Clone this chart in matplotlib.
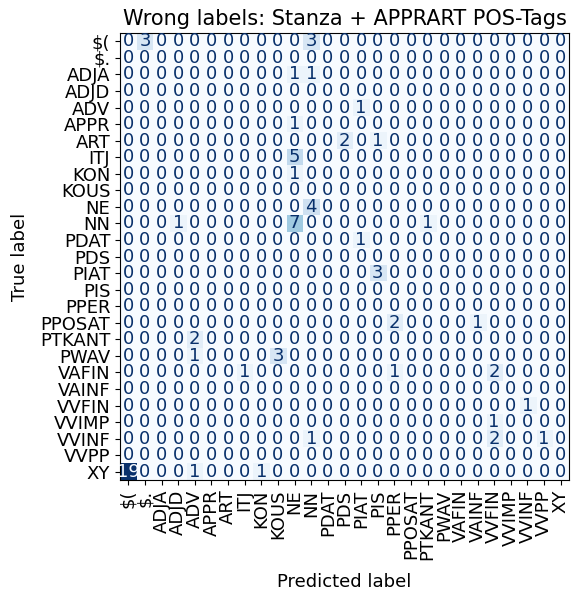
import numpy as np
import matplotlib
matplotlib.use('Agg')
import matplotlib.pyplot as plt

# POS tags (rows = true, cols = predicted)
labels = ['$(', '$.', 'ADJA', 'ADJD', 'ADV', 'APPR', 'ART', 'ITJ', 'KON', 'KOUS',
          'NE', 'NN', 'PDAT', 'PDS', 'PIAT', 'PIS', 'PPER', 'PPOSAT', 'PTKANT',
          'PWAV', 'VAFIN', 'VAINF', 'VVFIN', 'VVIMP', 'VVINF', 'VVPP', 'XY']

# non-zero cells: (true label, predicted label, count)
true_tags = ['$(', '$(', 'ADJA', 'ADJA', 'ADV', 'APPR', 'ART', 'ART', 'ITJ', 'KON',
             'NE', 'NN', 'NN', 'NN', 'PDAT', 'PIAT', 'PPOSAT', 'PPOSAT', 'PTKANT',
             'PWAV', 'PWAV', 'VAFIN', 'VAFIN', 'VAFIN', 'VVFIN', 'VVIMP',
             'VVINF', 'VVINF', 'VVINF', 'XY', 'XY', 'XY']
pred_tags = ['$.', 'NN', 'NE', 'NN', 'PIAT', 'NE', 'PDS', 'PIS', 'NE', 'NE',
             'NN', 'ADJD', 'NE', 'PTKANT', 'PIAT', 'PIS', 'PPER', 'VAINF', 'ADV',
             'ADV', 'KOUS', 'ITJ', 'PPER', 'VVFIN', 'VVINF', 'VVFIN',
             'NN', 'VVFIN', 'VVPP', '$(', 'ADV', 'KON']
counts = [3, 3, 1, 1, 1, 1, 2, 1, 5, 1,
          4, 1, 7, 1, 1, 3, 2, 1, 2,
          1, 3, 1, 1, 2, 1, 1,
          1, 2, 1, 19, 1, 1]

n = len(labels)
cm = np.zeros((n, n), dtype=int)
for t, p, c in zip(true_tags, pred_tags, counts):
    cm[labels.index(t), labels.index(p)] = c

plt.rcParams['font.size'] = 13

fig = plt.figure(figsize=(5.82, 5.92), dpi=100)
ax = fig.add_axes([0.2062, 0.1892, 0.7715, 0.755])

cmap = plt.get_cmap('Blues')
im = ax.imshow(cm, interpolation='nearest', cmap=cmap, aspect='auto')

# text colours like sklearn's ConfusionMatrixDisplay
thresh = (cm.max() + cm.min()) / 2.0
for i in range(n):
    for j in range(n):
        color = cmap(1.0) if cm[i, j] < thresh else cmap(0.0)
        ax.text(j, i, format(cm[i, j], 'd'), ha='center', va='center',
                color=color, fontsize=13)

ax.set_xticks(np.arange(n))
ax.set_yticks(np.arange(n))
ax.set_xticklabels(labels, rotation='vertical')
ax.set_yticklabels(labels)
ax.set_xlabel('Predicted label', labelpad=9)
ax.set_ylabel('True label', labelpad=8)
ax.set_title('Wrong labels: Stanza + APPRART POS-Tags', fontsize=15)
ax.set_ylim(n - 0.5, -0.5)

plt.savefig('out.png', dpi=100)
